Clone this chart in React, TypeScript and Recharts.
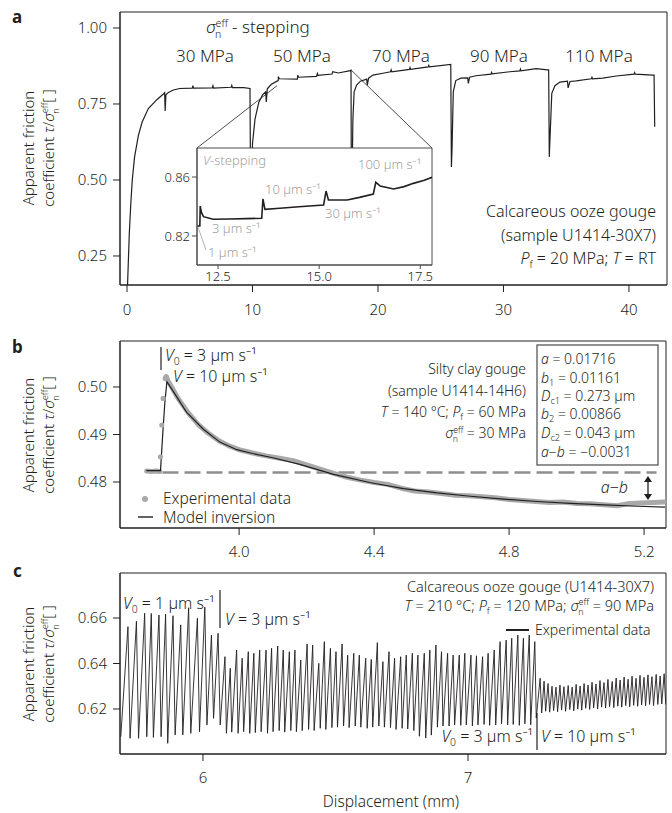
import React from 'react';
import {
  LineChart,
  ComposedChart,
  Line,
  Scatter,
  XAxis,
  YAxis,
  ReferenceLine,
  ReferenceArea,
  CartesianGrid,
} from 'recharts';

const FONT = '"Noto Sans", "DejaVu Sans", sans-serif';
const W = 300;
const INK = '#231f20';
const GREY = '#a9a9a9';
const LIGHT = '#a0a0a0';

// ---------------- Panel a : effective normal stress stepping ----------------
const aStep30 = [
  [0.0, 0.1], [0.08, 0.2], [0.18, 0.32], [0.3, 0.42], [0.42, 0.5], [0.6, 0.575], [0.9, 0.645],
  [1.2, 0.69], [1.7, 0.735], [2.4, 0.765], [2.9, 0.783], [3.0, 0.787], [3.04, 0.727], [3.1, 0.78],
  [3.3, 0.788], [3.7, 0.796], [4.2, 0.801], [5.2, 0.802], [5.25, 0.81], [5.3, 0.802], [6.8, 0.803],
  [6.85, 0.81], [6.9, 0.802], [8.3, 0.805], [8.35, 0.811], [8.4, 0.804], [9.3, 0.804], [9.8, 0.801],
  [9.85, 0.45],
];
const aStep50 = [
  [9.9, 0.45], [10.0, 0.62], [10.2, 0.7], [10.5, 0.755], [10.8, 0.78], [11.05, 0.79], [11.1, 0.757],
  [11.18, 0.8], [11.5, 0.815], [12.0, 0.826], [12.05, 0.827], [12.06, 0.84], [12.14, 0.833],
  [13.58, 0.832], [13.61, 0.845], [13.66, 0.838], [15.11, 0.841], [15.17, 0.8505], [15.23, 0.8444],
  [16.34, 0.8485], [16.4, 0.8564], [16.84, 0.852], [17.79, 0.86], [17.85, 0.861], [17.88, 0.45],
];
const aStep70 = [
  [17.92, 0.45], [18.0, 0.7], [18.1, 0.79], [18.3, 0.812], [18.6, 0.825], [19.1, 0.832], [19.15, 0.812],
  [19.25, 0.835], [19.6, 0.845], [20.5, 0.852], [21.0, 0.856], [21.05, 0.862], [21.1, 0.856],
  [22.5, 0.864], [22.55, 0.87], [22.6, 0.864], [24.0, 0.872], [24.05, 0.877], [24.1, 0.872],
  [25.8, 0.88], [25.85, 0.543],
];
const aStep90 = [
  [25.9, 0.6], [26.0, 0.79], [26.2, 0.827], [26.6, 0.835], [27.15, 0.836], [27.2, 0.818], [27.3, 0.838],
  [27.8, 0.843], [29.0, 0.848], [29.05, 0.854], [29.1, 0.849], [30.5, 0.856], [31.3, 0.859],
  [31.35, 0.865], [31.4, 0.859], [32.6, 0.866], [33.5, 0.862], [33.6, 0.862], [33.65, 0.576],
];
const aStep110 = [
  [33.7, 0.63], [33.85, 0.785], [34.1, 0.81], [34.5, 0.822], [35.1, 0.825], [35.15, 0.803], [35.3, 0.824],
  [35.8, 0.826], [37.0, 0.833], [37.05, 0.838], [37.1, 0.833], [37.9, 0.835], [39.0, 0.842],
  [40.4, 0.848], [40.45, 0.853], [40.5, 0.848], [41.9, 0.845], [42.0, 0.845], [42.05, 0.675],
];
const aXTicks = [0, 10, 20, 30, 40];
const aYTicks = [0.25, 0.5, 0.75, 1.0];
const aStressLabels = ['30 MPa', '50 MPa', '70 MPa', '90 MPa', '110 MPa'];

// inset : velocity stepping at 50 MPa
const insetVStep = [
  [11.99, 0.8268], [12.05, 0.8268], [12.06, 0.8403], [12.09, 0.836], [12.14, 0.8331], [12.38, 0.8313],
  [12.8, 0.8315], [13.2, 0.8318], [13.58, 0.832], [13.61, 0.8451], [13.66, 0.8381], [14.03, 0.8388],
  [14.5, 0.8398], [15.11, 0.841], [15.17, 0.8505], [15.23, 0.8444], [15.69, 0.8444], [16.0, 0.8462],
  [16.34, 0.8485], [16.4, 0.8564], [16.51, 0.8539], [16.84, 0.8519], [17.1, 0.8535], [17.33, 0.8557],
  [17.6, 0.8578], [17.79, 0.8598],
];
const insetXTicks = [12.5, 15.0, 17.5];
const insetYTicks = [0.82, 0.86];

// ---------------- Panel b : velocity step and model inversion ----------------
const bExpFlat = [[3.726, 0.4823], [3.74, 0.4822], [3.755, 0.4823], [3.765, 0.4822]];
const bExpRise = [[3.767, 0.4853], [3.771, 0.492], [3.775, 0.4976], [3.781, 0.5018], [3.784, 0.5021]];
const bExpDecay = [
  [3.784, 0.5022], [3.79, 0.5012], [3.8, 0.5], [3.82, 0.4975], [3.85, 0.4945], [3.88, 0.492],
  [3.91, 0.4902], [3.94, 0.4887], [3.97, 0.4876], [4.0, 0.4868], [4.04, 0.4861], [4.08, 0.4855],
  [4.12, 0.485], [4.16, 0.4845], [4.2, 0.4836], [4.24, 0.4827], [4.28, 0.4818], [4.32, 0.481],
  [4.36, 0.4804], [4.4, 0.4799], [4.44, 0.4795], [4.48, 0.4787], [4.52, 0.4781], [4.56, 0.4779],
  [4.6, 0.4776], [4.64, 0.4772], [4.68, 0.4771], [4.72, 0.4769], [4.76, 0.4767], [4.8, 0.4763],
  [4.84, 0.4761], [4.88, 0.4759], [4.92, 0.4757], [4.96, 0.4758], [5.0, 0.4755], [5.04, 0.4754],
  [5.08, 0.4752], [5.12, 0.475], [5.15, 0.4754], [5.19, 0.4756], [5.23, 0.4757], [5.26, 0.4758],
];
const bModel = [
  [3.725, 0.4824], [3.767, 0.4824], [3.774, 0.4905], [3.78, 0.4968], [3.786, 0.5011], [3.8, 0.4996],
  [3.81, 0.4985], [3.844, 0.4947], [3.894, 0.4911], [3.943, 0.4884], [3.993, 0.4868], [4.04, 0.486],
  [4.1, 0.4851], [4.18, 0.4837], [4.28, 0.4816], [4.387, 0.4799], [4.487, 0.4786], [4.586, 0.4777],
  [4.685, 0.477], [4.784, 0.4764], [4.883, 0.4759], [4.982, 0.4755], [5.082, 0.4752], [5.181, 0.4749],
  [5.262, 0.4747],
];
const bInitialLevel = 0.482;
const bXTicks = [4.0, 4.4, 4.8, 5.2];
const bYTicks = [0.48, 0.49, 0.5];

// ---------------- Panel c : stick-slip ----------------
const cStart = [5.69, 0.6078];
// V0 = 1 um/s
const cPeakX1 = [5.717, 5.749, 5.78, 5.805, 5.834, 5.859, 5.887, 5.916, 5.946, 5.979, 6.007, 6.032, 6.057];
const cPeak1 = [0.6562, 0.6586, 0.6621, 0.662, 0.6613, 0.6617, 0.661, 0.657, 0.6645, 0.6599, 0.6648, 0.6525, 0.6533];
const cTrough1 = [0.6071, 0.6071, 0.6078, 0.6075, 0.6078, 0.6049, 0.6086, 0.6086, 0.6093, 0.61, 0.613, 0.6159, 0.613];
const cSlip1 = 0.008;
// V = 3 um/s
const cPeakX2 = [
  6.083, 6.103, 6.127, 6.148, 6.171, 6.192, 6.214, 6.238, 6.259, 6.282,
  6.303, 6.326, 6.347, 6.369, 6.393, 6.414, 6.437, 6.458, 6.481, 6.502,
  6.525, 6.546, 6.569, 6.59, 6.614, 6.635, 6.658, 6.679, 6.702, 6.723,
  6.746, 6.767, 6.79, 6.811, 6.835, 6.856, 6.879, 6.9, 6.923, 6.944,
  6.967, 6.988, 7.011, 7.032, 7.055, 7.076, 7.099, 7.121, 7.144, 7.165,
  7.188, 7.209, 7.231, 7.252,
];
const cPeak2 = [
  0.643, 0.6379, 0.6459, 0.6423, 0.6452, 0.6445, 0.6459, 0.6459, 0.6467, 0.6477,
  0.6459, 0.6452, 0.6459, 0.6415, 0.6486, 0.6481, 0.6401, 0.6496, 0.6467, 0.6452,
  0.6486, 0.6437, 0.6445, 0.6437, 0.6423, 0.6418, 0.6492, 0.6408, 0.6452, 0.6423,
  0.643, 0.6437, 0.6445, 0.6437, 0.6445, 0.6459, 0.6481, 0.6452, 0.6445, 0.6437,
  0.6437, 0.6445, 0.6437, 0.6434, 0.643, 0.6445, 0.6459, 0.6496, 0.6503, 0.6511,
  0.6525, 0.6511, 0.6525, 0.6496,
];
const cTrough2 = [
  0.6093, 0.6098, 0.6093, 0.61, 0.6093, 0.6096, 0.61, 0.6093, 0.61, 0.6105,
  0.6098, 0.6105, 0.61, 0.6105, 0.611, 0.6105, 0.6115, 0.611, 0.6118, 0.612,
  0.6125, 0.6118, 0.6125, 0.612, 0.6115, 0.612, 0.6125, 0.612, 0.6118, 0.611,
  0.6115, 0.6112, 0.6105, 0.608, 0.6072, 0.6085, 0.612, 0.6125, 0.6125, 0.613,
  0.6128, 0.613, 0.6125, 0.613, 0.6132, 0.6128, 0.613, 0.6135, 0.613, 0.6132,
  0.6128, 0.6135, 0.613, 0.616,
];
const cSlip2 = 0.0055;
// V = 10 um/s
const cPeakX3 = [
  7.272, 7.287, 7.302, 7.317, 7.332, 7.347, 7.362, 7.378, 7.393, 7.408,
  7.423, 7.438, 7.453, 7.468, 7.483, 7.498, 7.513, 7.528, 7.544, 7.559,
  7.574, 7.589, 7.604, 7.619, 7.634, 7.649, 7.664, 7.679, 7.694, 7.71,
  7.725, 7.74,
];
const cPeak3 = [
  0.6335, 0.6322, 0.6312, 0.63, 0.6296, 0.6305, 0.6298, 0.6303, 0.6296, 0.6308,
  0.6301, 0.6312, 0.6305, 0.6318, 0.631, 0.6325, 0.6316, 0.633, 0.6321, 0.6336,
  0.6327, 0.634, 0.6331, 0.6344, 0.6335, 0.6348, 0.6339, 0.635, 0.6342, 0.6352,
  0.6345, 0.6355,
];
const cTrough3 = [
  0.6182, 0.619, 0.6186, 0.6193, 0.6188, 0.6195, 0.619, 0.6198, 0.6192, 0.62,
  0.6195, 0.6203, 0.6198, 0.6205, 0.62, 0.6208, 0.6204, 0.621, 0.6206, 0.6212,
  0.6208, 0.6215, 0.621, 0.6216, 0.6212, 0.6218, 0.6214, 0.622, 0.6215, 0.622,
  0.6222, 0.622,
];
const cSlip3 = 0.006;
const cXTicks = [6, 7];
const cYTicks = [0.62, 0.64, 0.66];

// ---------------- builders ----------------
const toPts = (arr: number[][]) => arr.map(([x, y]) => ({ x, y }));
const aData = toPts([...aStep30, ...aStep50, ...aStep70, ...aStep90, ...aStep110]);
const insetData = toPts(insetVStep);

function buildStickSlip() {
  const pts = [{ x: cStart[0], y: cStart[1] }];
  const sections = [
    { px: cPeakX1, hi: cPeak1, lo: cTrough1, slip: cSlip1 },
    { px: cPeakX2, hi: cPeak2, lo: cTrough2, slip: cSlip2 },
    { px: cPeakX3, hi: cPeak3, lo: cTrough3, slip: cSlip3 },
  ];
  sections.forEach((s) => {
    s.px.forEach((x, i) => {
      pts.push({ x, y: s.hi[i] });
      pts.push({ x: x + s.slip, y: s.lo[i] });
    });
  });
  return pts;
}
const cData = buildStickSlip();

// ---------------- shared axis styling ----------------
const tickStyle = { fill: INK, fontSize: 15, fontFamily: FONT, fontWeight: W };
const f2 = (v: number) => v.toFixed(2);
const f1 = (v: number) => v.toFixed(1);

// ---------------- text helpers ----------------
function sigmaEff(fs: number, rest: string, k: string) {
  const s = fs * 0.62;
  const effW = s * 1.22;
  const nW = s * 0.62;
  return [
    <tspan key={k + 's'} fontStyle="italic">σ</tspan>,
    <tspan key={k + 'e'} fontSize={s} dy={-fs * 0.38}>eff</tspan>,
    <tspan key={k + 'n'} fontSize={s} dx={-effW} dy={fs * 0.68}>n</tspan>,
    <tspan key={k + 'r'} dx={effW - nW} dy={-fs * 0.3}>{rest}</tspan>,
  ];
}
function subs(fs: number, base: string, sub: string, rest: string, k: string, italic = true) {
  return [
    <tspan key={k + 'b'} fontStyle={italic ? 'italic' : 'normal'}>{base}</tspan>,
    <tspan key={k + 's'} fontSize={fs * 0.65} dy={fs * 0.22}>{sub}</tspan>,
    <tspan key={k + 'r'} dy={-fs * 0.22}>{rest}</tspan>,
  ];
}

const txt = { fontFamily: FONT, fill: INK, fontWeight: W, style: { whiteSpace: 'pre' as const } };

function YLabel({ cy }: { cy: number }) {
  return (
    <g>
      <text {...txt} fontSize={15} textAnchor="middle" transform={`translate(34,${cy}) rotate(-90)`}>
        Apparent friction
      </text>
      <text {...txt} fontSize={15} textAnchor="middle" transform={`translate(54,${cy}) rotate(-90)`}>
        <tspan>coefficient </tspan>
        <tspan fontStyle="italic">τ</tspan>
        <tspan>/</tspan>
        {sigmaEff(15, '[ ]', 'yl')}
      </text>
    </g>
  );
}

function Overlay() {
  const aStressX = [205, 302, 401, 499, 599];
  return (
    <svg width={672} height={813} style={{ position: 'absolute', left: 0, top: 0, pointerEvents: 'none' }}>
      {/* panel letters */}
      <text fontFamily={FONT} fill={INK} fontSize={17} fontWeight="bold" x={12} y={23}>a</text>
      <text fontFamily={FONT} fill={INK} fontSize={17} fontWeight="bold" x={12} y={353}>b</text>
      <text fontFamily={FONT} fill={INK} fontSize={17} fontWeight="bold" x={13} y={577}>c</text>

      <YLabel cy={148} />
      <YLabel cy={435} />
      <YLabel cy={664} />

      {/* panel a */}
      <text {...txt} fontSize={17} x={206} y={33}>{sigmaEff(17, ' - stepping', 'a1')}</text>
      {aStressLabels.map((l, i) => (
        <text key={l} {...txt} fontSize={17} x={aStressX[i]} y={62} textAnchor="middle">{l}</text>
      ))}
      <text {...txt} fontSize={16} x={656} y={217} textAnchor="end">Calcareous ooze gouge</text>
      <text {...txt} fontSize={16} x={656} y={241} textAnchor="end">(sample U1414-30X7)</text>
      <text {...txt} fontSize={16} x={656} y={264} textAnchor="end">
        {subs(16, 'P', 'f', ' = 20 MPa; ', 'pa')}
        <tspan fontStyle="italic">T</tspan>
        <tspan> = RT</tspan>
      </text>

      {/* inset annotations */}
      <g fontFamily={FONT} fill={LIGHT} fontWeight={W} fontSize={13} style={{ whiteSpace: 'pre' }}>
        <text x={203} y={165}><tspan fontStyle="italic">V</tspan>-stepping</text>
        <text x={358} y={169}>100 µm s⁻¹</text>
        <text x={265} y={194}>10 µm s⁻¹</text>
        <text x={325} y={218}>30 µm s⁻¹</text>
        <text x={212} y={233}>3 µm s⁻¹</text>
        <text x={208} y={257}>1 µm s⁻¹</text>
      </g>
      <line x1={198} y1={227} x2={206} y2={250} stroke={LIGHT} strokeWidth={0.8} />

      {/* panel b */}
      <line x1={161} y1={347} x2={161} y2={370} stroke={INK} strokeWidth={1.2} />
      <text {...txt} fontSize={16} x={165} y={361}>{subs(16, 'V', '0', ' = 3 µm s⁻¹', 'v0b')}</text>
      <text {...txt} fontSize={16} x={173} y={382}><tspan fontStyle="italic">V</tspan> = 10 µm s⁻¹</text>
      <text {...txt} fontSize={14} x={526} y={374} textAnchor="end">Silty clay gouge</text>
      <text {...txt} fontSize={14} x={526} y={396} textAnchor="end">(sample U1414-14H6)</text>
      <text {...txt} fontSize={14} x={526} y={417} textAnchor="end">
        <tspan fontStyle="italic">T</tspan>
        <tspan> = 140 °C; </tspan>
        {subs(14, 'P', 'f', ' = 60 MPa', 'pb')}
      </text>
      <text {...txt} fontSize={14} x={526} y={438} textAnchor="end">{sigmaEff(14, ' = 30 MPa', 'sb')}</text>

      <rect x={537} y={345} width={121} height={120} fill="#fff" stroke="#4a4a4a" strokeWidth={1.2} />
      <g {...txt} fontSize={14}>
        <text x={541} y={364}><tspan fontStyle="italic">a</tspan> = 0.01716</text>
        <text x={541} y={383}>{subs(14, 'b', '1', ' = 0.01161', 'b1')}</text>
        <text x={541} y={401}>{subs(14, 'D', 'c1', ' = 0.273 µm', 'd1')}</text>
        <text x={541} y={419}>{subs(14, 'b', '2', ' = 0.00866', 'b2')}</text>
        <text x={541} y={438}>{subs(14, 'D', 'c2', ' = 0.043 µm', 'd2')}</text>
        <text x={541} y={457}><tspan fontStyle="italic">a</tspan>−<tspan fontStyle="italic">b</tspan> = −0.0031</text>
      </g>
      <text {...txt} fontSize={16} x={628} y={493} textAnchor="end">
        <tspan fontStyle="italic">a</tspan>−<tspan fontStyle="italic">b</tspan>
      </text>
      <line x1={648} y1={478} x2={648} y2={498} stroke={INK} strokeWidth={1.3} />
      <path d="M644,482 L648,476 L652,482 Z" fill={INK} />
      <path d="M644,494 L648,500 L652,494 Z" fill={INK} />

      <circle cx={145} cy={499} r={3} fill={GREY} />
      <text {...txt} fontSize={15.5} x={163} y={504}>Experimental data</text>
      <line x1={138} y1={517} x2={153} y2={517} stroke={INK} strokeWidth={1.4} />
      <text {...txt} fontSize={15.5} x={163} y={523}>Model inversion</text>

      {/* panel c */}
      <text {...txt} fontSize={16} x={123} y={609}>{subs(16, 'V', '0', ' = 1 µm s⁻¹', 'v0c')}</text>
      <line x1={220} y1={590} x2={220} y2={628} stroke={INK} strokeWidth={1.2} />
      <text {...txt} fontSize={16} x={225} y={625}><tspan fontStyle="italic">V</tspan> = 3 µm s⁻¹</text>
      <text {...txt} fontSize={14.5} x={654} y={592} textAnchor="end">Calcareous ooze gouge (U1414-30X7)</text>
      <text {...txt} fontSize={14.5} x={654} y={611} textAnchor="end">
        <tspan fontStyle="italic">T</tspan>
        <tspan> = 210 °C; </tspan>
        {subs(14.5, 'P', 'f', ' = 120 MPa; ', 'pc')}
        {sigmaEff(14.5, ' = 90 MPa', 'sc')}
      </text>
      <line x1={506} y1={630} x2={529} y2={630} stroke={INK} strokeWidth={2} />
      <text {...txt} fontSize={14} x={535} y={635}>Experimental data</text>
      <text {...txt} fontSize={16} x={533} y={742} textAnchor="end">{subs(16, 'V', '0', ' = 3 µm s⁻¹', 'v0d')}</text>
      <line x1={537} y1={713} x2={537} y2={750} stroke={INK} strokeWidth={1.2} />
      <text {...txt} fontSize={16} x={541} y={742}><tspan fontStyle="italic">V</tspan> = 10 µm s⁻¹</text>

      <text {...txt} fontSize={15.5} x={391} y={807} textAnchor="middle">Displacement (mm)</text>
    </svg>
  );
}

export default function App() {
  return (
    <div style={{ position: 'absolute', left: 0, top: 0, width: 672, height: 813, background: '#fff', fontFamily: FONT }}>
      {/* Panel a */}
      <div style={{ position: 'absolute', left: 0, top: 0 }}>
        <LineChart width={672} height={330} margin={{ top: 12, right: 5, bottom: 0, left: 0 }}>
          <XAxis type="number" dataKey="x" domain={[-0.558, 43.03]} allowDataOverflow ticks={aXTicks} interval={0}
            height={45} tickSize={7} tickMargin={12} stroke={INK} tick={tickStyle} />
          <YAxis type="number" dataKey="y" domain={[0.1546, 1.0526]} allowDataOverflow ticks={aYTicks} interval={0}
            width={120} tickSize={7} tickMargin={6} stroke={INK} tick={tickStyle} tickFormatter={f2} />
          <ReferenceArea x1={-0.558} x2={43.03} y1={0.1546} y2={1.0526} fill="none" stroke={INK} strokeWidth={1} ifOverflow="visible" />
          <ReferenceLine segment={[{ x: 5.578, y: 0.6053 }, { x: 11.95, y: 0.81 }]} stroke={INK} strokeWidth={0.8} ifOverflow="visible" />
          <ReferenceLine segment={[{ x: 24.3, y: 0.6053 }, { x: 17.85, y: 0.862 }]} stroke={INK} strokeWidth={0.8} ifOverflow="visible" />
          <Line data={aData} dataKey="y" type="linear" stroke={INK} strokeWidth={1.2} dot={false} isAnimationActive={false} />
        </LineChart>
      </div>

      {/* Inset */}
      <div style={{ position: 'absolute', left: 150, top: 143 }}>
        <LineChart width={285} height={147} margin={{ top: 5, right: 3, bottom: 0, left: 0 }}>
          <CartesianGrid horizontal={false} vertical={false} fill="#ffffff" />
          <XAxis type="number" dataKey="x" domain={[11.98, 17.79]} allowDataOverflow ticks={insetXTicks} interval={0}
            height={25} tickSize={4} tickMargin={3} stroke="#4a4a4a" tick={{ ...tickStyle, fontSize: 13 }} tickFormatter={f1} />
          <YAxis type="number" dataKey="y" domain={[0.8003, 0.8797]} allowDataOverflow ticks={insetYTicks} interval={0}
            width={47} tickSize={5} tickMargin={2} stroke="#4a4a4a" tick={{ ...tickStyle, fontSize: 13 }} tickFormatter={f2} />
          <ReferenceArea x1={11.98} x2={17.79} y1={0.8003} y2={0.8797} fill="none" stroke="#4a4a4a" strokeWidth={1} ifOverflow="visible" />
          <Line data={insetData} dataKey="y" type="linear" stroke={INK} strokeWidth={1.6} dot={false} isAnimationActive={false} />
        </LineChart>
      </div>

      {/* Panel b */}
      <div style={{ position: 'absolute', left: 0, top: 336 }}>
        <ComposedChart width={672} height={232} margin={{ top: 5, right: 6, bottom: 0, left: 0 }}>
          <XAxis type="number" dataKey="x" domain={[3.647, 5.265]} allowDataOverflow ticks={bXTicks} interval={0}
            height={40} tickSize={7} tickMargin={11} stroke={INK} tick={tickStyle} tickFormatter={f1} />
          <YAxis type="number" dataKey="y" domain={[0.47032, 0.50968]} allowDataOverflow ticks={bYTicks} interval={0}
            width={120} tickSize={7} tickMargin={6} stroke={INK} tick={tickStyle} tickFormatter={f2} />
          <ReferenceArea x1={3.647} x2={5.265} y1={0.47032} y2={0.50968} fill="none" stroke={INK} strokeWidth={1} ifOverflow="visible" />
          <ReferenceLine segment={[{ x: 3.773, y: bInitialLevel }, { x: 5.237, y: bInitialLevel }]} stroke="#8f8f8f"
            strokeWidth={2.5} strokeDasharray="16 6" ifOverflow="visible" />
          <Line data={toPts(bExpFlat)} dataKey="y" type="linear" stroke={GREY} strokeWidth={5} strokeLinecap="round"
            dot={false} isAnimationActive={false} />
          <Line data={toPts(bExpDecay)} dataKey="y" type="linear" stroke={GREY} strokeWidth={5} strokeLinecap="round"
            strokeLinejoin="round" dot={false} isAnimationActive={false} />
          <Scatter data={toPts(bExpRise)} dataKey="y" isAnimationActive={false}
            shape={(p: any) => <circle cx={p.cx} cy={p.cy} r={2.6} fill={GREY} />} />
          <Line data={toPts(bModel)} dataKey="y" type="linear" stroke={INK} strokeWidth={1.2} dot={false} isAnimationActive={false} />
        </ComposedChart>
      </div>

      {/* Panel c */}
      <div style={{ position: 'absolute', left: 0, top: 568 }}>
        <LineChart width={672} height={226} margin={{ top: 5, right: 6, bottom: 0, left: 0 }}>
          <XAxis type="number" dataKey="x" domain={[5.687, 7.747]} allowDataOverflow ticks={cXTicks} interval={0}
            height={40} tickSize={7} tickMargin={11} stroke={INK} tick={tickStyle} />
          <YAxis type="number" dataKey="y" domain={[0.6002, 0.6798]} allowDataOverflow ticks={cYTicks} interval={0}
            width={120} tickSize={7} tickMargin={6} stroke={INK} tick={tickStyle} tickFormatter={f2} />
          <ReferenceArea x1={5.687} x2={7.747} y1={0.6002} y2={0.6798} fill="none" stroke={INK} strokeWidth={1} ifOverflow="visible" />
          <Line data={cData} dataKey="y" type="linear" stroke={INK} strokeWidth={0.9} dot={false} isAnimationActive={false} />
        </LineChart>
      </div>

      <Overlay />
    </div>
  );
}
